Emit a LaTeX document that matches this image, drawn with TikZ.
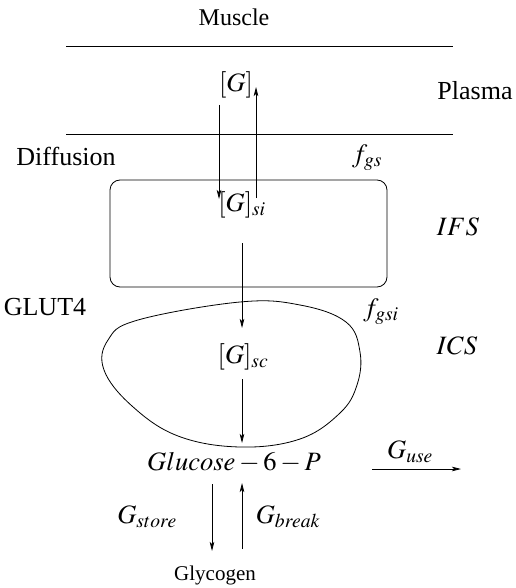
\documentclass[tikz,border=0pt]{standalone}
\usepackage{mathptmx}
\usepackage{fontspec}
\setmainfont{Liberation Serif}
\newfontfamily\tnr{Liberation Serif}
\usetikzlibrary{arrows.meta}
\begin{document}
\begin{tikzpicture}[x=1pt,y=-1pt,
  lbl/.style={inner sep=0pt,font=\tnr\fontsize{26}{30}\selectfont},
  mth/.style={inner sep=0pt,font=\fontsize{26.5}{30}\selectfont},
  small/.style={inner sep=0pt,font=\tnr\fontsize{21}{24}\selectfont},
  flow/.style={line width=0.8pt,-{Stealth[length=9pt,width=4.5pt,inset=2pt]}},
  plain/.style={line width=0.8pt}]
\useasboundingbox (0,0) rectangle (515,588);
% labels
\node[lbl,font=\tnr\fontsize{24}{28}\selectfont] (muscle) at (234,17) {Muscle};
\node[lbl] (plasma) at (475,91) {Plasma};
\node[lbl] (diff) at (66,156) {Diffusion};
\node[lbl] (glut) at (45,307) {GLUT4};
\node[mth] (ifs) at (458,227) {$IFS$};
\node[mth] (ics) at (457,346) {$ICS$};
\node[mth] (fgs) at (367,158) {$f_{gs}$};
\node[mth] (fgsi) at (381,312) {$f_{gsi}$};
% membranes
\draw[plain] (66,46) -- (453,46);
\draw[plain] (66,134) -- (453,134);
\draw[plain,rounded corners=10pt] (110,180) rectangle (387,287);
\draw[plain] plot[smooth cycle,tension=0.65] coordinates {
  (240,302) (300,305) (346,322) (360,352) (357,385) (340,413) (300,439)
  (240,447) (178,436) (132,406) (104,370) (108,340) (138,320)};
% species
\node[mth] (G) at (236,85) {$[G]$};
\node[mth] (Gsi) at (242,205) {$[G]_{si}$};
\node[mth] (Gsc) at (243,357) {$[G]_{sc}$};
\node[mth] (g6p) at (234,462) {$Glucose-6-P$};
\node[small] (glyc) at (215,575) {Glycogen};
\node[mth] (guse) at (410,452) {$G_{use}$};
\node[mth] (gstore) at (147,517) {$G_{store}$};
\node[mth] (gbreak) at (288,517) {$G_{break}$};
% connector ends
\coordinate (a1s) at (219,105); \coordinate (a1e) at (219,199);
\coordinate (a2s) at (256,198); \coordinate (a2e) at (256,87);
\coordinate (a3s) at (242,243); \coordinate (a3e) at (242,328);
\coordinate (a4s) at (242,379); \coordinate (a4e) at (242,443);
\coordinate (a5s) at (372,469); \coordinate (a5e) at (461,469);
\coordinate (a6s) at (212,484); \coordinate (a6e) at (212,551);
\coordinate (a7s) at (242,549); \coordinate (a7e) at (242,483);
\draw[flow] (a1s) -- (a1e);
\draw[flow] (a2s) -- (a2e);
\draw[flow] (a3s) -- (a3e);
\draw[flow] (a4s) -- (a4e);
\draw[flow] (a5s) -- (a5e);
\draw[flow] (a6s) -- (a6e);
\draw[flow] (a7s) -- (a7e);
\end{tikzpicture}
\end{document}
